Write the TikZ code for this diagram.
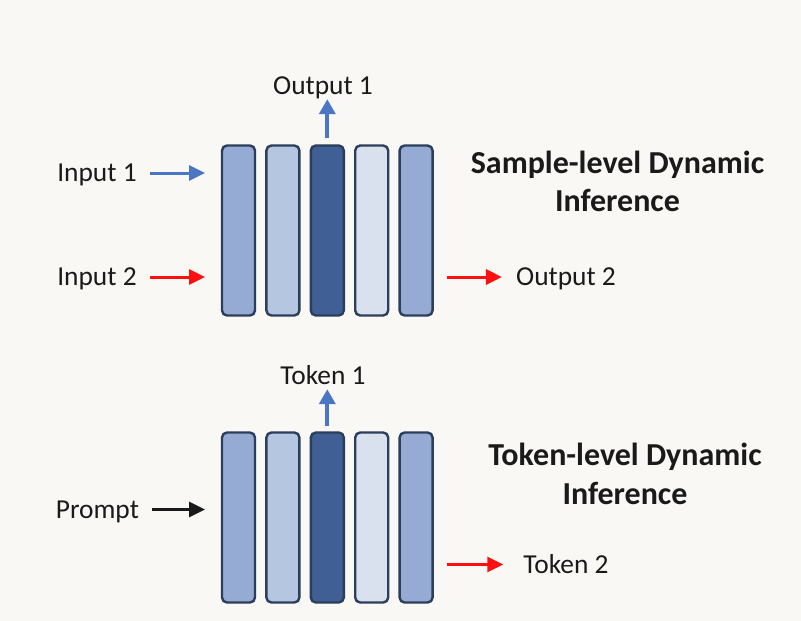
\documentclass[tikz,border=0pt]{standalone}
\usepackage{fontspec}
\setmainfont{Carlito}
\usepackage{xcolor}
\definecolor{PageBg}{HTML}{F9F8F4}
\definecolor{BarEdge}{HTML}{2C3E5C}
\definecolor{BarMid}{HTML}{95ABD4}
\definecolor{BarLight}{HTML}{B5C6E0}
\definecolor{BarDark}{HTML}{3F5F95}
\definecolor{BarPale}{HTML}{D9E1EC}
\definecolor{ArrBlue}{HTML}{4A76C4}
\definecolor{ArrRed}{HTML}{FF1010}
\definecolor{TxtDark}{HTML}{1A1A1A}
\usetikzlibrary{arrows.meta,positioning}

\begin{document}
\begin{tikzpicture}[
  x=1pt, y=-1pt,
  node distance=9pt,
  bar/.style={rounded corners=5pt, draw=BarEdge, line width=2.4pt, minimum width=33pt, minimum height=170pt, inner sep=0pt},
  lbl/.style={font=\fontsize{27.4}{33}\selectfont, text=TxtDark, inner sep=0pt, text height=17.6pt, text depth=0pt},
  title/.style={font=\fontsize{32}{38.5}\selectfont\bfseries, text=TxtDark, align=center, inner sep=0pt, anchor=base},
  flow/.style={-{Triangle[length=16pt,width=15pt]}, line width=3pt},
  up/.style={-{Triangle[length=15pt,width=16pt]}, line width=4pt, draw=ArrBlue},
]
\fill[PageBg] (0,0) rectangle (801,621);
\useasboundingbox (0,0) rectangle (801,621);

% sample-level
\node[bar, fill=BarMid] (sbar1) at (238.5,230.5) {};
\node[bar, fill=BarLight, right=of sbar1] (sbar2) {};
\node[bar, fill=BarDark, right=of sbar2] (sbar3) {};
\node[bar, fill=BarPale, right=of sbar3] (sbar4) {};
\node[bar, fill=BarMid, right=of sbar4] (sbar5) {};

\node[lbl] (out1) at (323,85.7) {Output 1};
\node[lbl] (in1) at (97,173) {Input 1};
\node[lbl] (in2) at (97,277) {Input 2};
\node[lbl] (out2) at (566,277) {Output 2};
\node[title] (stitle) at (617.5,211.7) {Sample-level Dynamic\\Inference};

\draw[up, shorten <=6pt, shorten >=4.5pt] (sbar3.north) -- (sbar3.north |- out1.south);
\draw[flow, draw=ArrBlue, shorten <=13pt, shorten >=15.7pt] (in1.east) -- (in1.east -| sbar1.west);
\draw[flow, draw=ArrRed, shorten <=13pt, shorten >=15.7pt] (in2.east) -- (in2.east -| sbar1.west);
\draw[flow, draw=ArrRed, shorten <=13pt, shorten >=14pt] (out2.west -| sbar5.east) -- (out2.west);

% token-level
\node[bar, fill=BarMid] (tbar1) at (238.5,517.5) {};
\node[bar, fill=BarLight, right=of tbar1] (tbar2) {};
\node[bar, fill=BarDark, right=of tbar2] (tbar3) {};
\node[bar, fill=BarPale, right=of tbar3] (tbar4) {};
\node[bar, fill=BarMid, right=of tbar4] (tbar5) {};

\node[lbl] (tok1) at (323,375.2) {Token 1};
\node[lbl] (prompt) at (97.4,509.5) {Prompt};
\node[lbl] (tok2) at (566,564.5) {Token 2};
\node[title] (ttitle) at (625,504) {Token-level Dynamic\\Inference};

\draw[up, shorten <=5.3pt, shorten >=5pt] (tbar3.north) -- (tbar3.north |- tok1.south);
\draw[flow, draw=TxtDark, shorten <=13pt, shorten >=15.7pt] (prompt.east) -- (prompt.east -| tbar1.west);
\draw[flow, draw=ArrRed, shorten <=13pt, shorten >=20pt] (tok2.west -| tbar5.east) -- (tok2.west);
\end{tikzpicture}
\end{document}
